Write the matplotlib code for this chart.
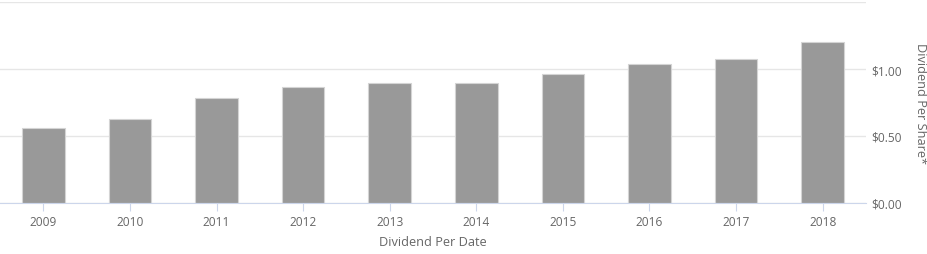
import matplotlib
matplotlib.use("Agg")
import matplotlib.pyplot as plt
from matplotlib.ticker import FixedLocator

years = ["2009", "2010", "2011", "2012", "2013", "2014", "2015", "2016", "2017", "2018"]
dividends = [0.555, 0.625, 0.78, 0.865, 0.895, 0.895, 0.96, 1.04, 1.075, 1.20]
ytick_vals = [0.0, 0.5, 1.0, 1.5]
ytick_labels = ["$0.00", "$0.50", "$1.00", ""]

plt.rcParams['font.family'] = ['Open Sans', 'DejaVu Sans']
W, H = 928, 255
fig = plt.figure(figsize=(W/100, H/100), dpi=100)
ax = fig.add_axes([0/W, (H-203.5)/H, 866/W, (203.5-3.3)/H])

x = range(len(years))
ax.bar(x, dividends, width=0.49, color="#999999", edgecolor="#d4d4d4", linewidth=0.8, zorder=2)
ax.set_xlim(-0.5, len(years)-0.5)
ax.set_ylim(0, 1.5)
ax.set_xticks(list(x))
ax.set_xticklabels(years)
ax.yaxis.set_major_locator(FixedLocator(ytick_vals))
ax.set_yticklabels(ytick_labels)
ax.yaxis.tick_right()
ax.yaxis.set_label_position("right")
ax.grid(axis='y', color="#e6e6e6", linewidth=1, zorder=0)
for s in ["top", "left", "right"]:
    ax.spines[s].set_visible(False)
ax.spines["bottom"].set_color("#ccd6eb")
ax.tick_params(axis='x', colors="#ccd6eb", length=6, labelcolor="#666666", labelsize=8.6, pad=3)
ax.tick_params(axis='y', length=0, labelcolor="#666666", labelsize=8.6, pad=4)
ax.set_xlabel("Dividend Per Date", color="#666666", fontsize=9.2, labelpad=5)
ax.set_ylabel("Dividend Per Share*", color="#666666", fontsize=9.2, rotation=270, labelpad=18)
fig.savefig("out.png", dpi=100)
